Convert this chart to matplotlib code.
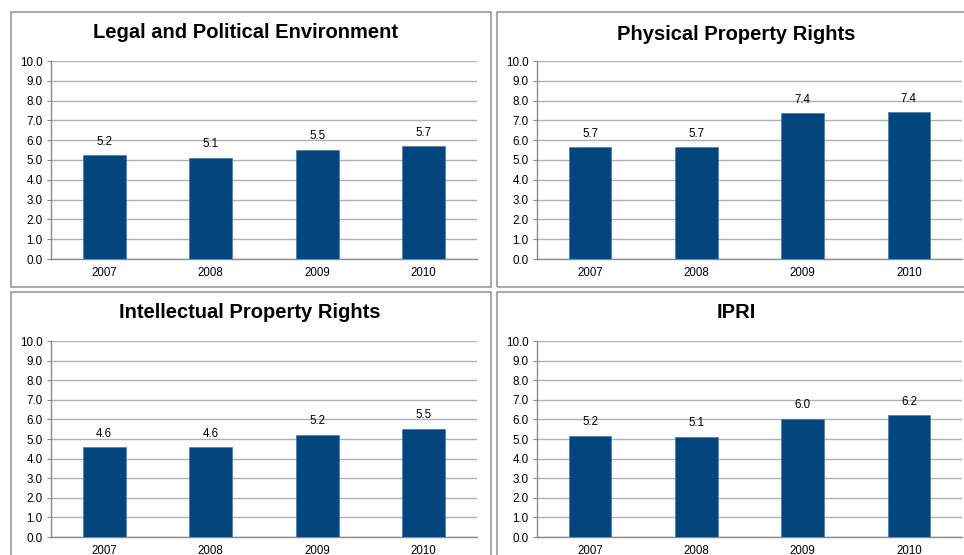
import matplotlib
matplotlib.use("Agg")
import matplotlib.pyplot as plt
from matplotlib.patches import Rectangle

plt.rcParams["font.family"] = ["Liberation Sans", "DejaVu Sans"]

years = ["2007", "2008", "2009", "2010"]
legal_political = [5.25, 5.12, 5.53, 5.71]
physical_property = [5.66, 5.66, 7.37, 7.42]
intellectual_property = [4.58, 4.58, 5.22, 5.53]
ipri = [5.17, 5.12, 6.04, 6.21]

titles = ["Legal and Political Environment", "Physical Property Rights",
          "Intellectual Property Rights", "IPRI"]
series = [legal_political, physical_property, intellectual_property, ipri]

W, H = 964, 555
BAR_COLOR = "#03467E"
GRID_COLOR = "#b0b0b0"
SPINE_COLOR = "#8a8a8a"

fig = plt.figure(figsize=(W / 100, H / 100), dpi=100)


def px_rect(x0, y0, x1, y1):
    # pixel box (top-left origin) -> figure fraction [left, bottom, width, height]
    return [x0 / W, 1 - y1 / H, (x1 - x0) / W, (y1 - y0) / H]


# panel frames, axes areas and title positions, in pixels
frames = [(11, 12, 491, 287), (497, 12, 976, 287),
          (11, 292, 491, 572), (497, 292, 976, 572)]
axes_boxes = [(51, 61, 477, 259), (537, 61, 962, 259),
              (51, 341, 477, 537), (537, 341, 962, 537)]
title_pos = [(246, 32), (736, 34), (250, 313), (736, 313)]

for frame in frames:
    l, b, w, h = px_rect(*frame)
    fig.patches.append(Rectangle((l, b), w, h, transform=fig.transFigure,
                                 fill=False, edgecolor="#9a9a9a", linewidth=1.2))

for title, values, box, (tx, ty) in zip(titles, series, axes_boxes, title_pos):
    ax = fig.add_axes(px_rect(*box))
    x = range(len(years))
    bars = ax.bar(x, values, width=0.4, color=BAR_COLOR, edgecolor="#4a7aa8",
                  linewidth=0.5, zorder=3)
    for rect, v in zip(bars, values):
        ax.annotate(f"{v:.1f}", (rect.get_x() + rect.get_width() / 2, v),
                    xytext=(0, 9.5), textcoords="offset points",
                    ha="center", va="center", fontsize=8.3)

    ax.set_xlim(-0.5, len(years) - 0.5)
    ax.set_ylim(0, 10)
    ax.set_yticks(range(11))
    ax.set_yticklabels([f"{t:.1f}" for t in range(11)], fontsize=8.4)
    ax.set_xticks(list(x))
    ax.set_xticklabels(years, fontsize=8.3)
    ax.tick_params(axis="x", length=0, pad=6)
    ax.tick_params(axis="y", length=3, color=SPINE_COLOR, pad=3)
    ax.yaxis.grid(True, color=GRID_COLOR, linewidth=1.0, zorder=0)
    ax.set_axisbelow(True)
    for side in ("top", "right"):
        ax.spines[side].set_visible(False)
    for side in ("left", "bottom"):
        ax.spines[side].set_color(SPINE_COLOR)
        ax.spines[side].set_linewidth(1.0)

    fig.text(tx / W, 1 - ty / H, title, ha="center", va="center",
             fontsize=14.5, fontweight="bold")

fig.savefig("out.png", dpi=100)
